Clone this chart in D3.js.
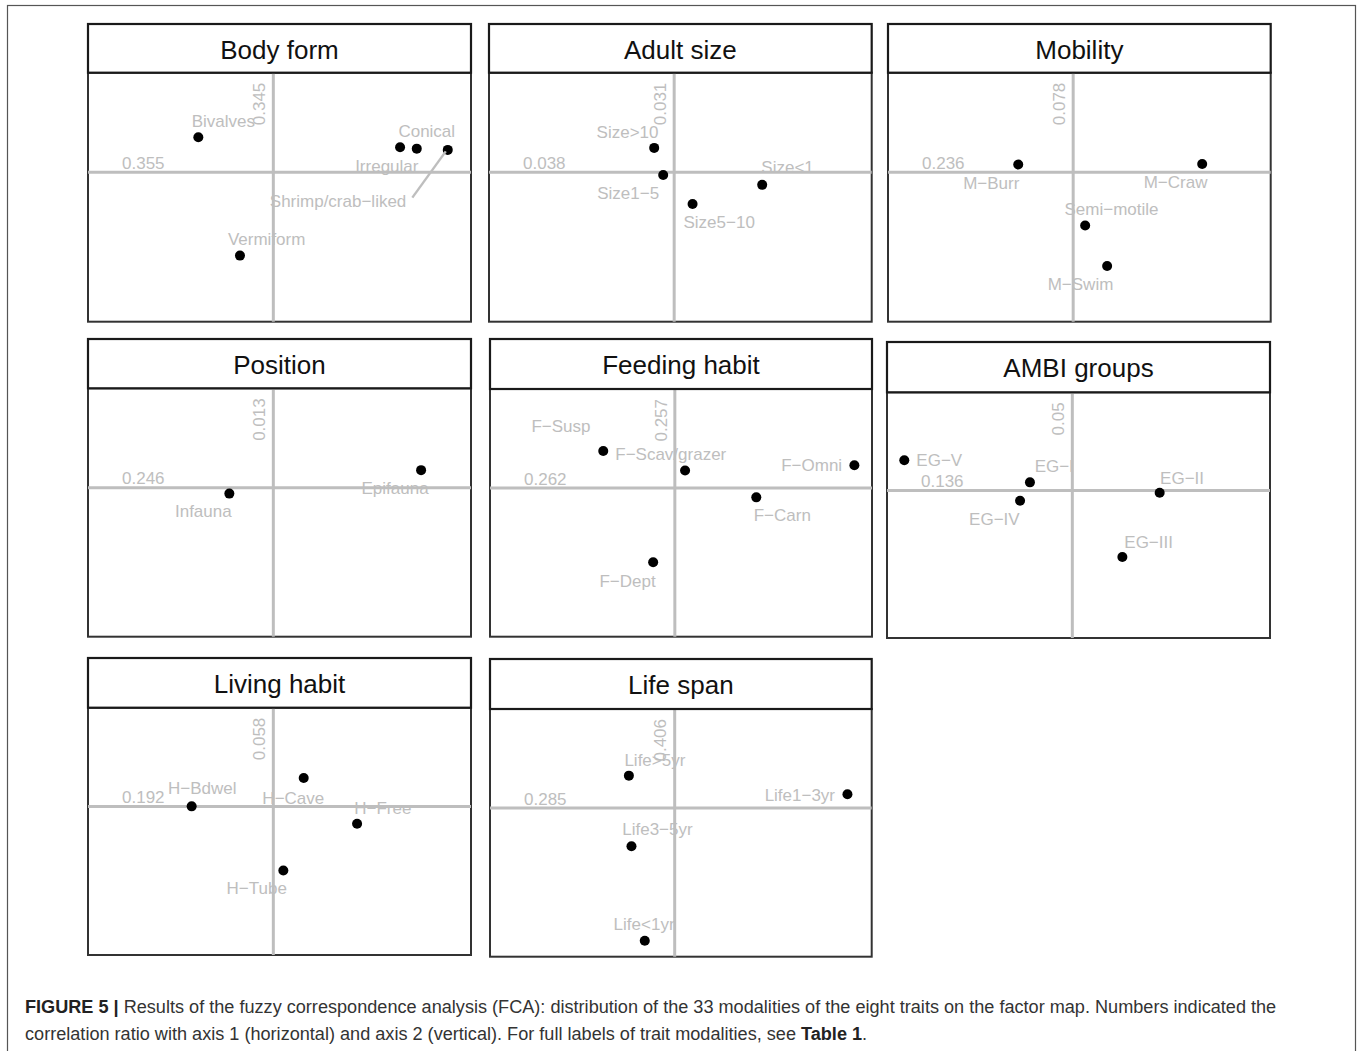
<!DOCTYPE html>
<html>
<head>
<meta charset="utf-8">
<script src="https://cdn.jsdelivr.net/npm/d3@7"></script>
<style>
  html, body { margin: 0; padding: 0; background: #fff; }
  svg { display: block; }
</style>
</head>
<body>
<svg id="fig" width="1357" height="1051"></svg>
<script>
// Traits shown as facets, with the correlation ratio of each trait on axis 1 and axis 2
const traits = ["Body form", "Adult size", "Mobility", "Position",
                "Feeding habit", "AMBI groups", "Living habit", "Life span"];
const corrAxis1 = ["0.355", "0.038", "0.236", "0.246", "0.262", "0.136", "0.192", "0.285"];
const corrAxis2 = ["0.345", "0.031", "0.078", "0.013", "0.257", "0.05", "0.058", "0.406"];

// The 33 trait modalities: trait index, label, FCA score on axis 1 and axis 2
const modalityTrait = [0,0,0,0,0, 1,1,1,1, 2,2,2,2, 3,3, 4,4,4,4,4, 5,5,5,5,5, 6,6,6,6, 7,7,7,7];
const modalityName = [
  "Bivalves", "Irregular", "Conical", "Shrimp/crab\u2212liked", "Vermiform",
  "Size>10", "Size1\u22125", "Size5\u221210", "Size<1",
  "M\u2212Burr", "M\u2212Craw", "Semi\u2212motile", "M\u2212Swim",
  "Infauna", "Epifauna",
  "F\u2212Susp", "F\u2212Scav/grazer", "F\u2212Omni", "F\u2212Carn", "F\u2212Dept",
  "EG\u2212V", "EG\u2212I", "EG\u2212IV", "EG\u2212II", "EG\u2212III",
  "H\u2212Bdwel", "H\u2212Cave", "H\u2212Free", "H\u2212Tube",
  "Life>5yr", "Life1\u22123yr", "Life3\u22125yr", "Life<1yr"
];
const score1 = [
  -0.607, 1.026, 1.161, 1.412, -0.270,
  -0.162, -0.089, 0.149, 0.713,
  -0.445, 1.045, 0.097, 0.275,
  -0.356, 1.196,
  -0.581, 0.083, 1.457, 0.661, -0.176,
  -1.360, -0.343, -0.423, 0.707, 0.405,
  -0.661, 0.246, 0.678, 0.081,
  -0.372, 1.403, -0.351, -0.243
];
const score2 = [
  0.281, 0.201, 0.190, 0.180, -0.669,
  0.196, -0.021, -0.254, -0.101,
  0.062, 0.067, -0.428, -0.752,
  -0.048, 0.141,
  0.300, 0.142, 0.185, -0.075, -0.599,
  0.247, 0.067, -0.083, -0.018, -0.541,
  0.002, 0.231, -0.139, -0.516,
  0.262, 0.112, -0.308, -1.071
];

// Repelled label placement (pixel offset of each label centre from its point)
const labelShift = [
  [25, -16.7], [-13.3, 19], [10, -18], [-109.7, 50.7], [26.7, -16.7],
  [-26.6, -16.3], [-35, 18.4], [26.6, 17.7], [25.4, -17.6],
  [-27, 18.7], [-26.6, 18.4], [26.4, -16.3], [-26.6, 18],
  [-26, 17.4], [-26, 18],
  [-42.3, -24.6], [-14.3, -16.7], [-42.7, -0.7], [26, 18], [-25.6, 18.4],
  [35, 0], [24.3, -16.4], [-25.7, 18.4], [22.4, -14.6], [26.3, -15.6],
  [10.6, -18], [-10.4, 20], [25.7, -15.6], [-26.6, 17.4],
  [26, -15.7], [-47.6, 0.3], [26, -17], [-0.7, -16.7]
];
const withLeader = ["Shrimp/crab\u2212liked"];

// Facet boxes: left, right, strip top, strip bottom, panel bottom
const facetBox = [
  [88, 471, 24, 72.7, 321.7], [489, 871.7, 24, 72.7, 321.7], [888, 1270.7, 24, 72.7, 321.7],
  [88, 471, 339, 388.3, 636.7], [490, 872, 339, 389, 636.7], [887, 1270, 342, 392.3, 638],
  [88, 471, 658, 707.7, 955], [490, 871.7, 659, 709, 956.7]
];

const xDomain = [-1.5, 1.6];
const yDomain = [-1.2, 0.8];
const FONT = "'Liberation Sans', Arial, Helvetica, sans-serif";
const GREY = "#bebebe";

const svg = d3.select("#fig");

// outer figure frame
svg.append("rect")
  .attr("x", 7.5).attr("y", 5.5)
  .attr("width", 1348).attr("height", 1060)
  .attr("fill", "none").attr("stroke", "#555").attr("stroke-width", 1.2);

const modalities = modalityName.map((name, i) => ({
  trait: modalityTrait[i], name, s1: score1[i], s2: score2[i],
  dx: labelShift[i][0], dy: labelShift[i][1]
}));

traits.forEach((title, t) => {
  const [x0, x1, top, stripBottom, bottom] = facetBox[t];
  const g = svg.append("g");
  const x = d3.scaleLinear().domain(xDomain).range([x0, x1]);
  const y = d3.scaleLinear().domain(yDomain).range([bottom, stripBottom]);

  // plot area
  g.append("rect")
    .attr("x", x0).attr("y", stripBottom)
    .attr("width", x1 - x0).attr("height", bottom - stripBottom)
    .attr("fill", "#fff").attr("stroke", "#333").attr("stroke-width", 2);

  // axis lines through the origin
  g.append("line")
    .attr("x1", x0).attr("x2", x1).attr("y1", y(0)).attr("y2", y(0))
    .attr("stroke", GREY).attr("stroke-width", 3);
  g.append("line")
    .attr("x1", x(0)).attr("x2", x(0)).attr("y1", stripBottom).attr("y2", bottom)
    .attr("stroke", GREY).attr("stroke-width", 3);

  // correlation ratios
  g.append("text")
    .attr("x", x0 + 34).attr("y", y(0) - 3.5)
    .attr("font-family", FONT).attr("font-size", 17).attr("fill", GREY)
    .text(corrAxis1[t]);
  g.append("text")
    .attr("transform", `translate(${x(0) - 8.3},${stripBottom + 10}) rotate(-90)`)
    .attr("text-anchor", "end")
    .attr("font-family", FONT).attr("font-size", 17).attr("fill", GREY)
    .text(corrAxis2[t]);

  const pts = modalities.filter(d => d.trait === t);

  // modality labels
  const labels = g.selectAll("text.mod").data(pts).enter().append("text")
    .attr("class", "mod")
    .attr("x", d => x(d.s1) + d.dx)
    .attr("y", d => y(d.s2) + d.dy)
    .attr("dy", "0.36em")
    .attr("text-anchor", "middle")
    .attr("font-family", FONT).attr("font-size", 17).attr("fill", GREY)
    .text(d => d.name);

  // points
  g.selectAll("circle").data(pts).enter().append("circle")
    .attr("cx", d => x(d.s1)).attr("cy", d => y(d.s2))
    .attr("r", 5).attr("fill", "#000");

  // leader segments for labels pushed far from their point
  labels.filter(d => withLeader.includes(d.name)).each(function (d) {
    const w = this.getComputedTextLength();
    const lx = x(d.s1) + d.dx + w / 2 + 6;
    const ly = y(d.s2) + d.dy - 3;
    g.append("line")
      .attr("x1", lx).attr("y1", ly)
      .attr("x2", x(d.s1) - 2).attr("y2", y(d.s2) + 1.5)
      .attr("stroke", GREY).attr("stroke-width", 2.4);
  });

  // facet strip
  g.append("rect")
    .attr("x", x0).attr("y", top)
    .attr("width", x1 - x0).attr("height", stripBottom - top)
    .attr("fill", "#fff").attr("stroke", "#1a1a1a").attr("stroke-width", 2.2);
  g.append("text")
    .attr("x", (x0 + x1) / 2).attr("y", top + 35.3)
    .attr("text-anchor", "middle")
    .attr("font-family", FONT).attr("font-size", 26).attr("fill", "#111")
    .text(title);
});

// caption
const cap = svg.append("g")
  .attr("font-family", "'Liberation Sans', Arial, Helvetica, sans-serif")
  .attr("fill", "#333");
const line1 = cap.append("text").attr("x", 25).attr("y", 1012.5).attr("font-size", 16);
line1.append("tspan").attr("font-weight", "bold").attr("fill", "#222").text("FIGURE 5 | ");
line1.append("tspan").text("Results of the fuzzy correspondence analysis (FCA): distribution of the 33 modalities of the eight traits on the factor map. Numbers indicated the");
const line2 = cap.append("text").attr("x", 25).attr("y", 1039.5).attr("font-size", 16);
line2.append("tspan").text("correlation ratio with axis 1 (horizontal) and axis 2 (vertical). For full labels of trait modalities, see ");
line2.append("tspan").attr("font-weight", "bold").attr("fill", "#222").text("Table 1");
line2.append("tspan").text(".");

// fit the first caption line to the text block width
const natural = line1.node().getComputedTextLength();
const fitted = 16 * 1252 / natural;
line1.attr("font-size", fitted);
line2.attr("font-size", fitted);
</script>
</body>
</html>
